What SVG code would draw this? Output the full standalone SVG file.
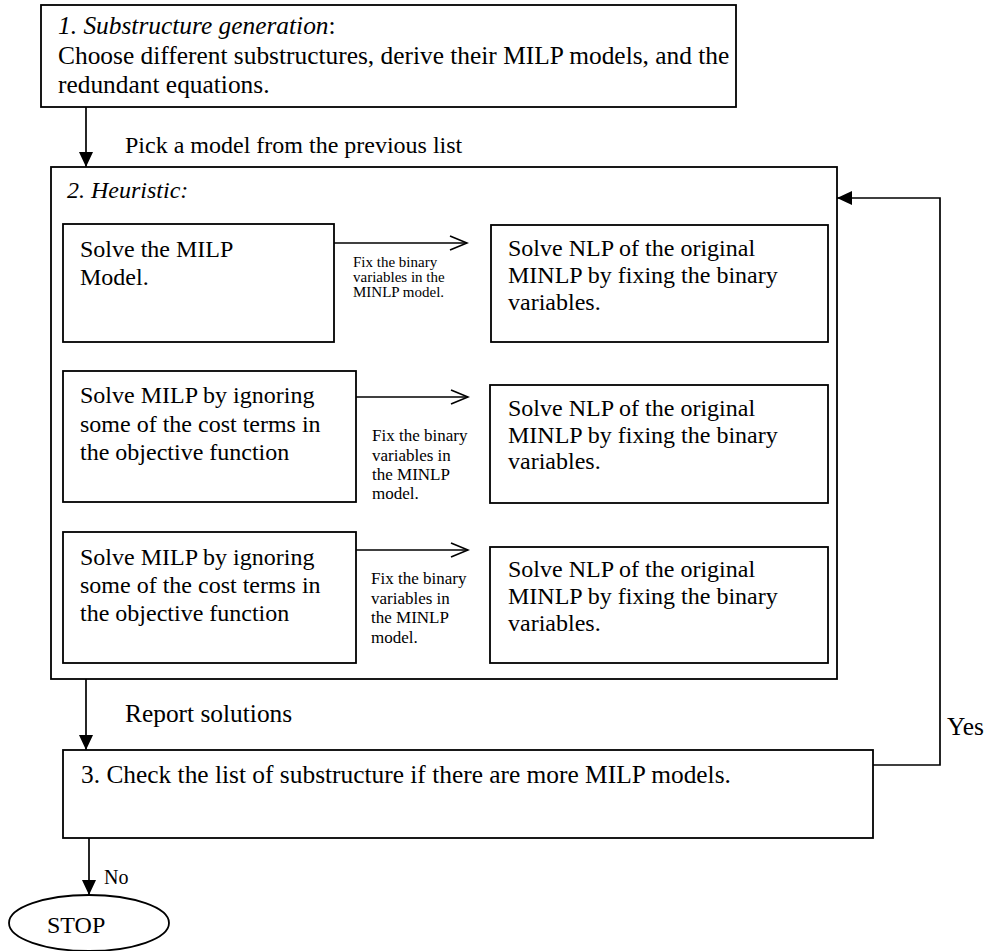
<svg xmlns="http://www.w3.org/2000/svg" width="987" height="951" viewBox="0 0 987 951">
  <style>
    text { font-family: "Liberation Serif", "Times New Roman", serif; fill: #000; }
    .t { font-size: 24px; }
    .tl { font-size: 25.4px; }
    .it { font-style: italic; }
    .up { font-style: normal; }
    .box { fill: #fff; stroke: #000; stroke-width: 1.8; }
    .wire { fill: none; stroke: #000; stroke-width: 1.7; }
    .lbl { font-size: 15px; }
    .lbl2 { font-size: 17px; }
    .small { font-size: 20px; }
  </style>
  <defs>
    <marker id="solid" markerUnits="userSpaceOnUse" markerWidth="15" markerHeight="14" viewBox="0 0 15 14" refX="15" refY="7" orient="auto">
      <path d="M0,0 L15,7 L0,14 Z" fill="#000"/>
    </marker>
    <marker id="open" markerUnits="userSpaceOnUse" markerWidth="20" markerHeight="18" viewBox="0 0 20 18" refX="18" refY="9" orient="auto">
      <path d="M1,2 L18,9 L1,16" fill="none" stroke="#000" stroke-width="1.7"/>
    </marker>
  </defs>

  <!-- step 1: substructure generation -->
  <g id="substructure">
    <rect class="box" x="41" y="5" width="695" height="102"/>
    <text class="tl it" x="58" y="34">1. Substructure generation<tspan class="up">:</tspan></text>
    <text class="tl" x="58" y="64">Choose different substructures, derive their MILP models, and the</text>
    <text class="tl" x="58" y="93">redundant equations.</text>
  </g>

  <!-- step 2: heuristic container -->
  <g id="heuristic">
    <rect class="box" x="51" y="167" width="786" height="512"/>
    <text class="t it" x="67" y="198">2. Heuristic:</text>
  </g>

  <g id="milp1">
    <rect class="box" x="63" y="224" width="271" height="118"/>
    <text class="t" x="80" y="257">Solve the MILP</text>
    <text class="t" x="80" y="285">Model.</text>
  </g>
  <g id="nlp1">
    <rect class="box" x="491" y="225" width="337" height="117"/>
    <text class="t" x="508" y="256">Solve NLP of the original</text>
    <text class="t" x="508" y="283">MINLP by fixing the binary</text>
    <text class="t" x="508" y="310">variables.</text>
  </g>

  <g id="milp2">
    <rect class="box" x="63" y="371" width="293" height="131"/>
    <text class="t" x="80" y="403">Solve MILP by ignoring</text>
    <text class="t" x="80" y="432">some of the cost terms in</text>
    <text class="t" x="80" y="460">the objective function</text>
  </g>
  <g id="nlp2">
    <rect class="box" x="490" y="385" width="338" height="118"/>
    <text class="t" x="508" y="416">Solve NLP of the original</text>
    <text class="t" x="508" y="443">MINLP by fixing the binary</text>
    <text class="t" x="508" y="469">variables.</text>
  </g>

  <g id="milp3">
    <rect class="box" x="63" y="532" width="293" height="131"/>
    <text class="t" x="80" y="565">Solve MILP by ignoring</text>
    <text class="t" x="80" y="593">some of the cost terms in</text>
    <text class="t" x="80" y="621">the objective function</text>
  </g>
  <g id="nlp3">
    <rect class="box" x="490" y="547" width="338" height="116"/>
    <text class="t" x="508" y="577">Solve NLP of the original</text>
    <text class="t" x="508" y="604">MINLP by fixing the binary</text>
    <text class="t" x="508" y="631">variables.</text>
  </g>

  <!-- step 3: check for more models -->
  <g id="check">
    <rect class="box" x="63" y="750" width="810" height="88"/>
    <text class="tl" x="81" y="783">3. Check the list of substructure if there are more MILP models.</text>
  </g>

  <g id="stop">
    <ellipse class="box" cx="89" cy="923" rx="80" ry="28"/>
    <text class="t" x="47" y="933">STOP</text>
  </g>

  <!-- connectors and their labels -->
  <g id="connectors">
    <line class="wire" x1="86" y1="107" x2="86" y2="167" marker-end="url(#solid)"/>
    <text class="t" x="125" y="153">Pick a model from the previous list</text>

    <line class="wire" x1="334" y1="243" x2="467" y2="243" marker-end="url(#open)"/>
    <text class="lbl" x="353" y="267">Fix the binary</text>
    <text class="lbl" x="353" y="282">variables in the</text>
    <text class="lbl" x="353" y="297">MINLP model.</text>

    <line class="wire" x1="356" y1="397" x2="468" y2="397" marker-end="url(#open)"/>
    <text class="lbl2" x="372" y="441">Fix the binary</text>
    <text class="lbl2" x="372" y="461">variables in</text>
    <text class="lbl2" x="372" y="480">the MINLP</text>
    <text class="lbl2" x="372" y="499">model.</text>

    <line class="wire" x1="356" y1="550" x2="468" y2="550" marker-end="url(#open)"/>
    <text class="lbl2" x="371" y="584">Fix the binary</text>
    <text class="lbl2" x="371" y="604">variables in</text>
    <text class="lbl2" x="371" y="623">the MINLP</text>
    <text class="lbl2" x="371" y="643">model.</text>

    <line class="wire" x1="86" y1="679" x2="86" y2="750" marker-end="url(#solid)"/>
    <text class="tl" x="125" y="722">Report solutions</text>

    <polyline class="wire" points="873,765 940,765 940,198 837,198" marker-end="url(#solid)"/>
    <text class="tl" x="947" y="735">Yes</text>

    <line class="wire" x1="89" y1="838" x2="89" y2="895" marker-end="url(#solid)"/>
    <text class="small" x="104" y="884">No</text>
  </g>
</svg>
